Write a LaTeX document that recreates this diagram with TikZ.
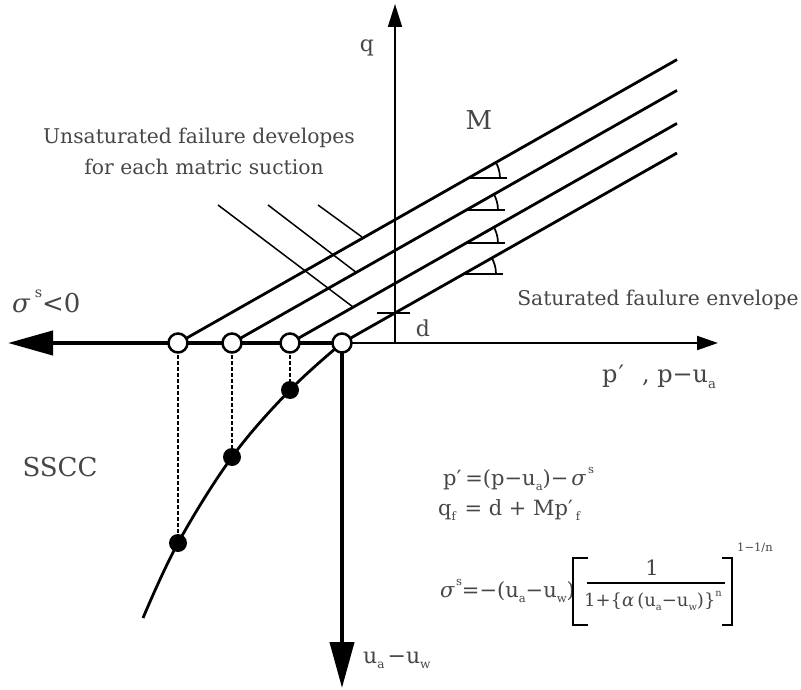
\documentclass[tikz,border=0pt]{standalone}
\usepackage{fontspec}
\setmainfont{DejaVu Serif}
\usetikzlibrary{arrows.meta}
\definecolor{txt}{RGB}{70,70,70}
\newcommand{\mysub}[1]{\raisebox{-0.5ex}{\scalebox{0.55}{#1}}}
\newcommand{\mysup}[1]{\raisebox{1.05ex}{\scalebox{0.55}{#1}}}
\begin{document}
\begin{tikzpicture}[x=1pt,y=-1pt,
  lbl/.style={text=txt, inner sep=0pt, font=\fontsize{20.3}{24}\selectfont},
  biglbl/.style={text=txt, inner sep=0pt, font=\fontsize{26}{30}\selectfont},
  midlbl/.style={text=txt, inner sep=0pt, font=\fontsize{22}{26}\selectfont},
  eqlbl/.style={text=txt, inner sep=0pt, font=\fontsize{21}{24}\selectfont},
  denlbl/.style={text=txt, inner sep=0pt, font=\fontsize{18}{21}\selectfont},
  smlbl/.style={text=txt, inner sep=0pt, font=\fontsize{11.5}{13}\selectfont},
  failline/.style={line width=2.8pt},
  thinaxis/.style={line width=2pt},
  thickaxis/.style={line width=4.2pt},
  leader/.style={line width=1.5pt},
  anglemark/.style={line width=1.7pt},
  guide/.style={line width=1.4pt, dash pattern=on 4pt off 2pt},
  opencirc/.style={circle, draw, fill=white, line width=2.5pt, minimum size=19pt, inner sep=0pt},
  dot/.style={circle, fill=black, minimum size=18pt, inner sep=0pt}
]
\useasboundingbox (0,0) rectangle (801,690);

% key points
\coordinate (P1) at (178,343);
\coordinate (P2) at (232,343);
\coordinate (P3) at (290,343);
\coordinate (P4) at (342,343);
\coordinate (E1) at (677,59.6);
\coordinate (E2) at (677,90.4);
\coordinate (E3) at (677,123.4);
\coordinate (E4) at (677,153);
\coordinate (O) at (395,343);
\coordinate (Qtop) at (395,4);
\coordinate (Rend) at (718,343);
\coordinate (Lend) at (8,343);
\coordinate (Bend) at (342,688);
\coordinate (D1) at (178,543);
\coordinate (D2) at (232,457);
\coordinate (D3) at (290,390);
\coordinate (Cend) at (143,618);

% axes
\draw[thinaxis, -{Triangle[length=23pt,width=14pt]}] (O) -- (Qtop);
\draw[thinaxis, -{Triangle[length=21pt,width=14pt]}] (P4) -- (Rend);
\draw[thickaxis, -{Triangle[length=45pt,width=24pt]}] (P4) -- (Lend);
\draw[thickaxis, -{Triangle[length=46pt,width=24pt]}] (P4) -- (Bend);

% d tick
\coordinate (dL) at (377,313);
\coordinate (dR) at (410,313);
\draw[anglemark] (dL) -- (dR);

% failure lines
\draw[failline] (P1) -- (E1);
\draw[failline] (P2) -- (E2);
\draw[failline] (P3) -- (E3);
\draw[failline] (P4) -- (E4);

% angle marks
\foreach \vx/\vy in {467/178.3, 465/210.2, 465/243.2, 463/274.0} {
  \draw[anglemark] (\vx,\vy) -- ++(40,0);
  \draw[anglemark] (\vx,\vy) ++(33,0) arc[start angle=0, end angle=-29.7, radius=33];
}

% leader lines
\coordinate (L1a) at (218,205); \coordinate (L1b) at (353,307);
\coordinate (L2a) at (268,205); \coordinate (L2b) at (357,273);
\coordinate (L3a) at (318,205); \coordinate (L3b) at (362,237);
\draw[leader] (L1a) -- (L1b);
\draw[leader] (L2a) -- (L2b);
\draw[leader] (L3a) -- (L3b);

% SSCC curve
\draw[failline] plot[smooth, tension=0.6] coordinates {(P4) (D3) (D2) (D1) (Cend)};

% guides
\draw[guide] (P1) -- (D1);
\draw[guide] (P2) -- (D2);
\draw[guide] (P3) -- (D3);

% markers
\node[opencirc] (c1) at (P1) {};
\node[opencirc] (c2) at (P2) {};
\node[opencirc] (c3) at (P3) {};
\node[opencirc] (c4) at (P4) {};
\node[dot] (d1) at (D1) {};
\node[dot] (d2) at (D2) {};
\node[dot] (d3) at (D3) {};

% labels
\node[lbl] (unsat) at (199,138) {Unsaturated failure developes};
\node[lbl] (foreach) at (204,167) {for each matric suction};
\node[biglbl] (M) at (479,120) {M};
\node[lbl] (sat) at (658,300) {Saturated faulure envelope};
\node[biglbl, anchor=base west] (sig) at (12,312) {\textit{σ}\,\mysup{s}<0};
\node[midlbl] (q) at (367,48) {q};
\node[midlbl] (d) at (423,328) {d};
\node[midlbl, font=\fontsize{24}{28}\selectfont, anchor=base west] (pp) at (602,382) {p\hspace{1pt}\raisebox{-0.05ex}{′}\hspace{18pt}, p−u\mysub{a}};
\node[biglbl] (sscc) at (60,467) {SSCC};
\node[midlbl, anchor=base west] (uw) at (363,663) {u\mysub{a}\hspace{3pt}−u\mysub{w}};

% equations
\node[eqlbl, anchor=base west] (eq1) at (443,485) {p′\hspace{4pt}=(p−u\mysub{a})−\hspace{3pt}\textit{σ}\hspace{2pt}\mysup{s}};
\node[eqlbl, anchor=base west] (eq2) at (438,515) {q\mysub{f}\hspace{2pt} = d + Mp′\hspace{3pt}\mysub{f}};
\node[eqlbl, anchor=base west] (eq3) at (440,597) {\textit{σ}\hspace{1pt}\mysup{s}=−(u\mysub{a}−u\mysub{w})};
\draw[line width=1.4pt] (588,558) -- (573,558) -- (573,625) -- (588,625);
\draw[line width=1.4pt] (722,558) -- (732,558) -- (732,625) -- (722,625);
\draw[line width=1.1pt] (587,583) -- (725,583);
\node[eqlbl] (num) at (652,568) {1};
\node[denlbl] (den) at (653,601) {1+\{\textit{α}\,(u\mysub{a}−u\mysub{w})\}\mysup{n}};
\node[smlbl] (expo) at (755,548) {1−1/n};
\end{tikzpicture}
\end{document}
